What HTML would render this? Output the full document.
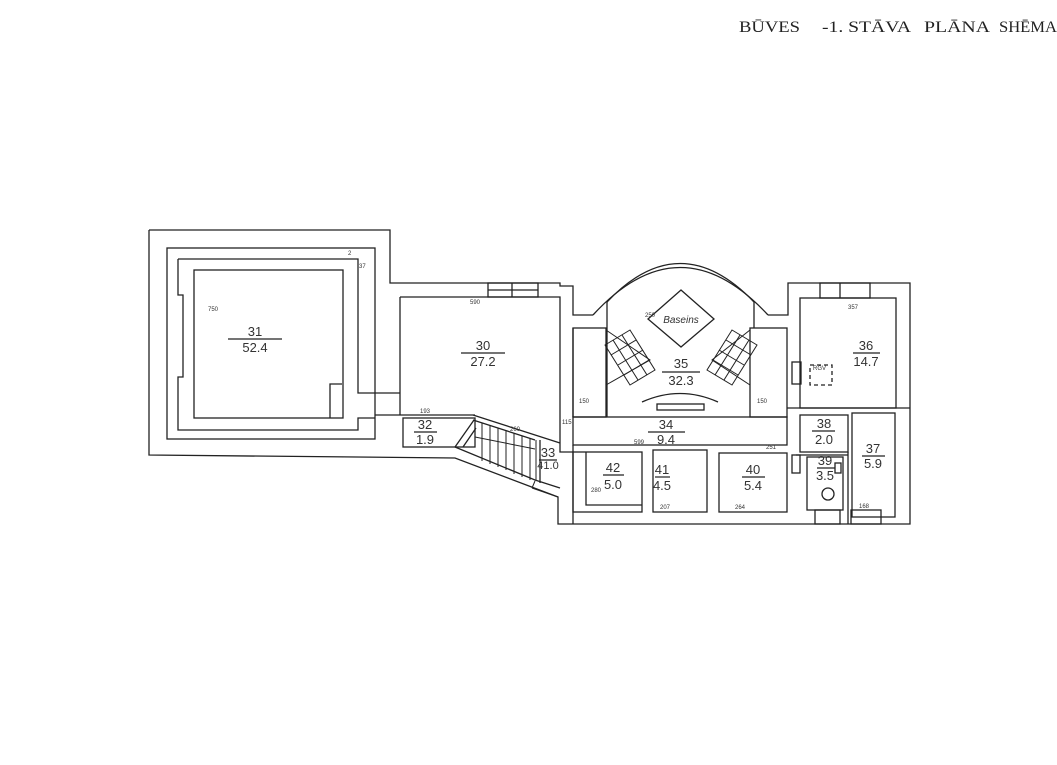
<!DOCTYPE html>
<html><head><meta charset="utf-8"><style>
html,body{margin:0;padding:0;background:#fff;}
svg{display:block}
text{font-family:"Liberation Sans",sans-serif;fill:#333}
.t{font-family:"Liberation Serif",serif;fill:#222}
</style></head><body>
<svg width="1057" height="765" viewBox="0 0 1057 765" xmlns="http://www.w3.org/2000/svg">
<rect width="1057" height="765" fill="#fff"/>
<g class="t" font-size="16">
<text class="t" x="739" y="32" textLength="61" lengthAdjust="spacingAndGlyphs">BŪVES</text>
<text class="t" x="822" y="32" textLength="89" lengthAdjust="spacingAndGlyphs">-1. STĀVA</text>
<text class="t" x="924" y="32" textLength="66" lengthAdjust="spacingAndGlyphs">PLĀNA</text>
<text class="t" x="999" y="32" textLength="58" lengthAdjust="spacingAndGlyphs">SHĒMA</text>
</g>
<g fill="none" stroke="#222" stroke-width="1.3">
<polyline points="149,230 390,230 390,283 560,283 560,286 573,286 573,315 593,315"/>
<polyline points="149,230 149,455 455,458 558,497 558,524 910,524 910,283 788,283 788,315 768,315"/>
<rect x="167" y="248" width="208" height="191"/>
<polyline points="178,259 358,259 358,393 400,393"/>
<polyline points="178,259 178,295 183,295 183,377 178,377 178,430 358,430 358,418 375,418"/>
<rect x="194" y="270" width="149" height="148"/>
<polyline points="330,418 330,384 342,384"/>
<polyline points="400,297 560,297 560,415"/>
<line x1="400" y1="297" x2="400" y2="415"/>
<line x1="375" y1="415" x2="475" y2="415"/>
<rect x="488" y="283" width="50" height="14"/>
<line x1="488" y1="290" x2="538" y2="290"/><line x1="512" y1="283" x2="512" y2="297"/>
<rect x="403" y="418" width="72" height="29"/>
<polyline points="473,415 560,443"/>
<polyline points="473,420 535,440"/>
<polyline points="455,447 535,480 560,488"/>
<line x1="455" y1="447" x2="474" y2="420"/>
<line x1="463" y1="447" x2="476" y2="428"/>
<g stroke-width="1">
<line x1="482" y1="423" x2="482" y2="461"/><line x1="490" y1="426" x2="490" y2="464"/>
<line x1="498" y1="428" x2="498" y2="467"/><line x1="506" y1="431" x2="506" y2="470"/>
<line x1="514" y1="433" x2="514" y2="474"/><line x1="522" y1="436" x2="522" y2="477"/>
<line x1="530" y1="438" x2="530" y2="480"/><line x1="536" y1="440" x2="536" y2="481"/>
<line x1="475" y1="437" x2="535" y2="449"/>
<line x1="535" y1="481" x2="532" y2="488"/><line x1="532" y1="488" x2="558" y2="497"/>
</g>
<line x1="540" y1="440" x2="540" y2="483"/>
<polyline points="560,415 560,452 573,452 573,524"/>
<line x1="573" y1="328" x2="573" y2="417"/>
<rect x="573" y="417" width="214" height="28"/>
<rect x="573" y="328" width="33" height="89"/>
<rect x="750" y="328" width="37" height="89"/>
<path d="M593,315 Q680,220 768,315"/>
<path d="M607,302 L607,417"/>
<path d="M607,302 Q680,225 754,302 L754,328"/>
<path d="M642,402 Q680,385 718,402"/>
<rect x="657" y="404" width="47" height="6"/>
<polygon points="681,290 714,319 681,347 648,319"/>
<g stroke-width="1">
<polygon points="605,345 630,330 655,370 630,385"/>
<line x1="611" y1="355" x2="636" y2="340"/><line x1="618" y1="365" x2="643" y2="350"/><line x1="624" y1="375" x2="649" y2="360"/>
<line x1="613" y1="340" x2="638" y2="380"/><line x1="622" y1="335" x2="647" y2="375"/>
<polygon points="757,345 732,330 707,370 732,385"/>
<line x1="751" y1="355" x2="726" y2="340"/><line x1="744" y1="365" x2="719" y2="350"/><line x1="738" y1="375" x2="713" y2="360"/>
<line x1="749" y1="340" x2="724" y2="380"/><line x1="740" y1="335" x2="715" y2="375"/>
<polyline points="606,330 650,360 606,385"/><polyline points="750,330 712,360 750,385"/>
</g>
<line x1="573" y1="445" x2="573" y2="452"/>
<rect x="573" y="452" width="69" height="60"/>
<polyline points="586,452 586,505 642,505"/>
<rect x="653" y="450" width="54" height="62"/>
<rect x="719" y="453" width="68" height="59"/>
<rect x="792" y="455" width="8" height="18"/>
<rect x="800" y="298" width="96" height="110"/>
<rect x="800" y="415" width="48" height="37"/>
<rect x="852" y="413" width="43" height="104"/>
<rect x="807" y="457" width="36" height="53"/>
<line x1="787" y1="408" x2="910" y2="408"/>
<line x1="796" y1="455" x2="848" y2="455"/>
<line x1="848" y1="452" x2="848" y2="524"/>
<rect x="792" y="362" width="9" height="22"/>
<rect x="810" y="365" width="22" height="20" stroke-dasharray="4,3"/>
<rect x="820" y="283" width="50" height="15"/><line x1="840" y1="283" x2="840" y2="298"/>
<rect x="815" y="510" width="25" height="14"/><rect x="851" y="510" width="30" height="14"/>
<circle cx="828" cy="494" r="6"/>
<rect x="835" y="463" width="6" height="10"/>
</g>
<g stroke="#222" stroke-width="1.2">
<line x1="228" y1="339" x2="282" y2="339"/><line x1="461" y1="353" x2="505" y2="353"/>
<line x1="414" y1="432" x2="437" y2="432"/><line x1="539" y1="460" x2="557" y2="460"/>
<line x1="662" y1="372" x2="700" y2="372"/><line x1="853" y1="353" x2="880" y2="353"/>
<line x1="648" y1="432" x2="685" y2="432"/><line x1="812" y1="431" x2="835" y2="431"/>
<line x1="862" y1="456" x2="885" y2="456"/><line x1="817" y1="468" x2="835" y2="468"/>
<line x1="603" y1="475" x2="624" y2="475"/><line x1="655" y1="477" x2="670" y2="477"/>
<line x1="742" y1="477" x2="765" y2="477"/>
</g>
<g font-size="13" text-anchor="middle">
<text x="255" y="336">31</text><text x="255" y="352">52.4</text>
<text x="483" y="350">30</text><text x="483" y="366">27.2</text>
<text x="425" y="429">32</text><text x="425" y="444">1.9</text>
<text x="548" y="457">33</text><text x="548" y="469" font-size="11">41.0</text>
<text x="681" y="368">35</text><text x="681" y="385">32.3</text>
<text x="866" y="350">36</text><text x="866" y="366">14.7</text>
<text x="666" y="429">34</text><text x="666" y="444">9.4</text>
<text x="824" y="428">38</text><text x="824" y="444">2.0</text>
<text x="873" y="453">37</text><text x="873" y="468">5.9</text>
<text x="825" y="465">39</text><text x="825" y="480">3.5</text>
<text x="613" y="472">42</text><text x="613" y="489">5.0</text>
<text x="662" y="474">41</text><text x="662" y="490">4.5</text>
<text x="753" y="474">40</text><text x="753" y="490">5.4</text>
</g>
<text x="681" y="323" font-size="10" text-anchor="middle" font-style="italic">Baseins</text>
<g font-size="6">
<text x="208" y="311">750</text><text x="470" y="304">590</text><text x="645" y="317">250</text>
<text x="848" y="309">357</text><text x="579" y="403">150</text><text x="757" y="403">150</text>
<text x="420" y="413">193</text><text x="510" y="431">260</text><text x="634" y="444">599</text>
<text x="766" y="449">251</text><text x="591" y="492">280</text><text x="735" y="509">264</text>
<text x="859" y="508">168</text><text x="660" y="509">207</text><text x="562" y="424">115</text>
<text x="348" y="255">2</text><text x="359" y="268">37</text><text x="813" y="370">RGV</text>
</g>
</svg>
</body></html>
